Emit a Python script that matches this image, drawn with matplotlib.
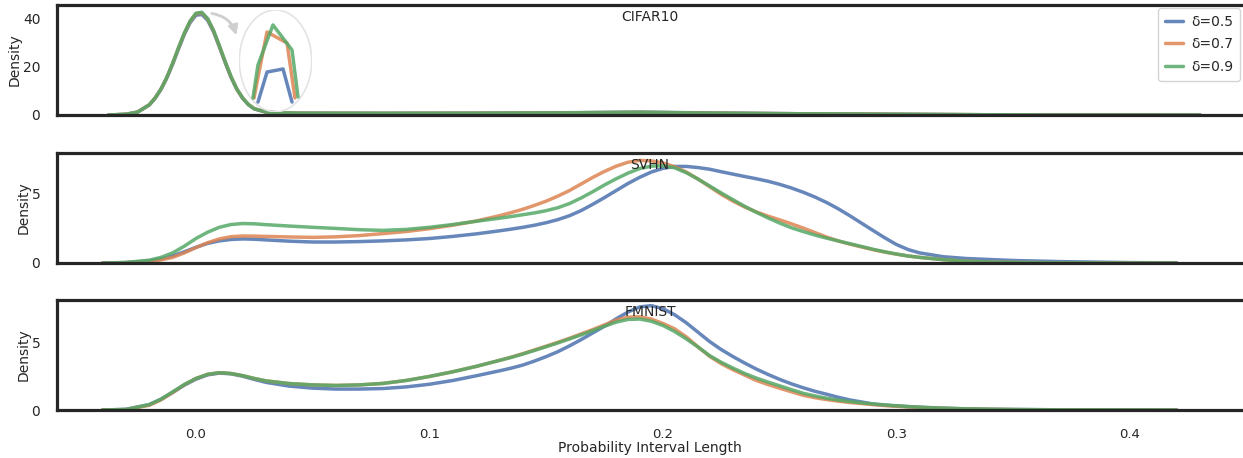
import numpy as np
import matplotlib
matplotlib.use("Agg")
import matplotlib.pyplot as plt
from matplotlib.patches import Ellipse
import seaborn as sns

sns.set_theme(style="white")
plt.rcParams["font.family"] = ["DejaVu Sans"]

DATASETS = ["CIFAR10", "SVHN", "FMNIST"]
DELTAS = ["δ=0.5", "δ=0.7", "δ=0.9"]
COLORS = ["#4C72B0", "#DD8452", "#55A868"]
XTICKS = [0.0, 0.1, 0.2, 0.3, 0.4]
YTICKS = [[0, 20, 40], [0, 5], [0, 5]]
YMAX = [45.4, 7.86, 8.2]

# ---- CIFAR10 densities -----------------------------------------------------
cifar_x = [-0.0375, -0.030, -0.025, -0.020, -0.0175, -0.015, -0.0125, -0.010,
           -0.0075, -0.005, -0.0025, 0.000, 0.0025, 0.005, 0.0075, 0.010,
           0.0125, 0.015, 0.0175, 0.020, 0.0225, 0.025, 0.030, 0.035, 0.045,
           0.08, 0.12, 0.16, 0.19, 0.22, 0.26, 0.30, 0.34, 0.38, 0.43]
cifar_d05 = [0, 0.3, 1.2, 4.1, 6.9, 10.5, 15.2, 20.9, 27.2, 33.2, 38.1, 41.2,
             41.5, 39.1, 34.4, 28.2, 21.7, 15.6, 10.6, 6.9, 4.2, 2.5, 1.2, 0.9,
             0.75, 0.7, 0.75, 0.95, 1.2, 0.85, 0.5, 0.3, 0.1, 0.02, 0]
cifar_d07 = [0, 0.3, 1.2, 4.2, 7.0, 10.6, 15.4, 21.2, 27.6, 33.6, 38.6, 41.8,
             42.1, 39.6, 34.8, 28.5, 21.9, 15.8, 10.7, 7.0, 4.3, 2.6, 1.2, 0.9,
             0.75, 0.7, 0.75, 0.9, 1.1, 0.8, 0.5, 0.3, 0.1, 0.02, 0]
cifar_d09 = [0, 0.3, 1.2, 4.2, 7.0, 10.7, 15.5, 21.3, 27.7, 33.8, 38.8, 42.0,
             42.4, 39.8, 35.0, 28.7, 22.1, 15.9, 10.8, 7.0, 4.3, 2.6, 1.2, 0.9,
             0.75, 0.7, 0.75, 0.9, 1.1, 0.8, 0.5, 0.3, 0.1, 0.02, 0]

# ---- SVHN / FMNIST share one reading grid ----------------------------------
grid_x = [-0.04, -0.03, -0.02, -0.015, -0.01, -0.005, 0.0, 0.005, 0.01, 0.015,
          0.02, 0.025, 0.03, 0.04, 0.05, 0.06, 0.07, 0.08, 0.09, 0.10, 0.11,
          0.12, 0.13, 0.135, 0.14, 0.145, 0.15, 0.155, 0.16, 0.165, 0.17,
          0.175, 0.18, 0.185, 0.19, 0.195, 0.20, 0.205, 0.21, 0.215, 0.22,
          0.225, 0.23, 0.235, 0.24, 0.245, 0.25, 0.255, 0.26, 0.265, 0.27,
          0.275, 0.28, 0.285, 0.29, 0.295, 0.30, 0.305, 0.31, 0.32, 0.33,
          0.34, 0.35, 0.37, 0.40, 0.42]

svhn_d05 = [0, 0.03, 0.15, 0.3, 0.5, 0.8, 1.12, 1.4, 1.58, 1.68, 1.72, 1.7,
            1.65, 1.56, 1.5, 1.5, 1.53, 1.58, 1.65, 1.75, 1.9, 2.08, 2.3, 2.42,
            2.55, 2.7, 2.88, 3.1, 3.38, 3.75, 4.2, 4.68, 5.18, 5.68, 6.12, 6.5,
            6.76, 6.9, 6.9, 6.82, 6.7, 6.52, 6.35, 6.18, 6.02, 5.84, 5.62, 5.36,
            5.06, 4.72, 4.33, 3.88, 3.38, 2.85, 2.32, 1.8, 1.32, 0.96, 0.72,
            0.45, 0.32, 0.25, 0.18, 0.1, 0.03, 0.01]
svhn_d07 = [0, 0.02, 0.1, 0.22, 0.4, 0.72, 1.1, 1.45, 1.72, 1.88, 1.93, 1.92,
            1.9, 1.86, 1.83, 1.87, 1.96, 2.1, 2.25, 2.45, 2.7, 3.0, 3.38, 3.6,
            3.84, 4.12, 4.42, 4.78, 5.18, 5.65, 6.12, 6.55, 6.92, 7.2, 7.33,
            7.3, 7.15, 6.88, 6.5, 6.0, 5.45, 4.9, 4.42, 4.0, 3.65, 3.35, 3.08,
            2.8, 2.5, 2.18, 1.86, 1.58, 1.35, 1.15, 0.95, 0.78, 0.63, 0.5, 0.4,
            0.24, 0.13, 0.07, 0.04, 0.015, 0.0, 0]
svhn_d09 = [0, 0.04, 0.2, 0.4, 0.72, 1.2, 1.75, 2.2, 2.55, 2.75, 2.82, 2.8,
            2.74, 2.64, 2.55, 2.47, 2.38, 2.33, 2.4, 2.55, 2.75, 2.98, 3.2,
            3.32, 3.45, 3.58, 3.74, 3.95, 4.25, 4.65, 5.1, 5.58, 6.02, 6.42,
            6.75, 6.92, 6.95, 6.8, 6.45, 6.0, 5.5, 5.0, 4.52, 4.05, 3.62, 3.22,
            2.85, 2.52, 2.25, 2.0, 1.78, 1.58, 1.38, 1.18, 0.98, 0.8, 0.64, 0.5,
            0.4, 0.24, 0.13, 0.07, 0.04, 0.015, 0.0, 0]

fmnist_d05 = [0, 0.05, 0.4, 0.8, 1.3, 1.85, 2.3, 2.62, 2.75, 2.7, 2.52, 2.28,
              2.06, 1.78, 1.63, 1.56, 1.56, 1.6, 1.72, 1.92, 2.2, 2.55, 2.92,
              3.12, 3.35, 3.65, 3.98, 4.35, 4.78, 5.25, 5.75, 6.25, 6.8, 7.3,
              7.68, 7.78, 7.55, 7.1, 6.5, 5.8, 5.1, 4.5, 3.98, 3.5, 3.05, 2.65,
              2.28, 1.95, 1.66, 1.4, 1.18, 0.95, 0.75, 0.6, 0.45, 0.36, 0.3,
              0.25, 0.2, 0.13, 0.08, 0.05, 0.035, 0.015, 0.005, 0]
fmnist_d07 = [0, 0.03, 0.35, 0.75, 1.3, 1.88, 2.35, 2.66, 2.78, 2.72, 2.56,
              2.35, 2.17, 1.97, 1.87, 1.83, 1.87, 1.98, 2.2, 2.5, 2.85, 3.25,
              3.7, 3.94, 4.2, 4.48, 4.76, 5.05, 5.35, 5.68, 6.0, 6.35, 6.7,
              6.92, 6.95, 6.78, 6.45, 6.05, 5.45, 4.7, 4.0, 3.45, 3.0, 2.6, 2.2,
              1.9, 1.62, 1.36, 1.1, 0.92, 0.78, 0.66, 0.56, 0.48, 0.4, 0.33,
              0.28, 0.23, 0.19, 0.12, 0.08, 0.05, 0.03, 0.01, 0.0, 0]
fmnist_d09 = [0, 0.04, 0.4, 0.8, 1.35, 1.9, 2.35, 2.66, 2.78, 2.72, 2.56, 2.35,
              2.17, 1.97, 1.87, 1.83, 1.87, 1.98, 2.2, 2.5, 2.85, 3.25, 3.7,
              3.92, 4.17, 4.44, 4.72, 5.0, 5.3, 5.6, 5.92, 6.25, 6.55, 6.75,
              6.78, 6.62, 6.3, 5.85, 5.3, 4.7, 4.05, 3.55, 3.12, 2.72, 2.38,
              2.08, 1.8, 1.52, 1.25, 1.05, 0.88, 0.74, 0.63, 0.53, 0.45, 0.38,
              0.32, 0.26, 0.21, 0.14, 0.09, 0.06, 0.04, 0.015, 0.005, 0]

# ---- zoomed peak inset (normalised inset coords) ---------------------------
zoom_u = [[0.258, 0.383, 0.604, 0.728],
          [0.203, 0.286, 0.383, 0.659, 0.769],
          [0.189, 0.258, 0.465, 0.728, 0.811]]
zoom_v = [[0.095, 0.39, 0.42, 0.095],
          [0.135, 0.44, 0.784, 0.675, 0.135],
          [0.135, 0.46, 0.853, 0.607, 0.145]]

panels = [
    (cifar_x, [cifar_d05, cifar_d07, cifar_d09]),
    (grid_x, [svhn_d05, svhn_d07, svhn_d09]),
    (grid_x, [fmnist_d05, fmnist_d07, fmnist_d09]),
]

W, H = 1243, 458
fig = plt.figure(figsize=(W / 100, H / 100), dpi=100)
left = 57 / W
tops = [5, 153, 300]
ax_h = 110 / H
axes = []
for i, (xs, dens) in enumerate(panels):
    bottom = (H - tops[i] - 110) / H
    ax = fig.add_axes([left, bottom, 1.0 - left, ax_h],
                      sharex=axes[0] if axes else None)
    axes.append(ax)
    for d, c, lab in zip(dens, COLORS, DELTAS):
        ax.plot(xs, d, color=c, lw=2.5, alpha=0.85, label=lab,
                solid_joinstyle="round")
    ax.set_ylim(0, YMAX[i])
    ax.set_yticks(YTICKS[i])
    ax.set_xlim(-0.0595, 0.4484)
    for s in ["top", "bottom", "left"]:
        ax.spines[s].set_linewidth(2.3)
        ax.spines[s].set_color("#262626")
    ax.spines["right"].set_visible(False)
    ax.tick_params(axis="y", labelsize=10, pad=12, length=0)
    ax.tick_params(axis="x", labelsize=9.5, pad=13, length=0)
    ax.set_ylabel("Density", fontsize=10, labelpad=1)
    ax.text(0.5, 0.955, DATASETS[i], transform=ax.transAxes, ha="center",
            va="top", fontsize=10, color="#262626")
    if i < 2:
        ax.tick_params(axis="x", labelbottom=False)

axes[2].set_xticks(XTICKS)
axes[2].set_xlabel("Probability Interval Length", fontsize=10, labelpad=0)

axes[0].legend(loc="upper right", fontsize=10, handlelength=1.25,
               handletextpad=0.6, labelspacing=0.6, borderpad=0.5,
               borderaxespad=0, framealpha=1, edgecolor="#d5d5d5",
               bbox_to_anchor=(0.9975, 0.973))

# inset showing the zoomed peaks
ex0, ey0, ew, eh = 239.3, 111.7, 72.4, 101.7
ins = fig.add_axes([ex0 / W, (H - ey0) / H, ew / W, eh / H])
ins.set_xlim(0, 1)
ins.set_ylim(0, 1)
ins.axis("off")
ins.add_patch(Ellipse((0.5, 0.5), 1.0, 1.0, facecolor="none",
                      edgecolor="#e3e3e3", lw=1.2))
for u, v, c in zip(zoom_u, zoom_v, COLORS):
    ins.plot(u, v, color=c, lw=2.5, alpha=0.85)

axes[0].annotate("", xy=(237, H - 38), xycoords="figure pixels",
                 xytext=(209, H - 13), textcoords="figure pixels",
                 arrowprops=dict(arrowstyle="-|>", color="#cfcfcf", lw=2,
                                 mutation_scale=14,
                                 connectionstyle="arc3,rad=-0.35"))

fig.savefig("out.png", dpi=100)
